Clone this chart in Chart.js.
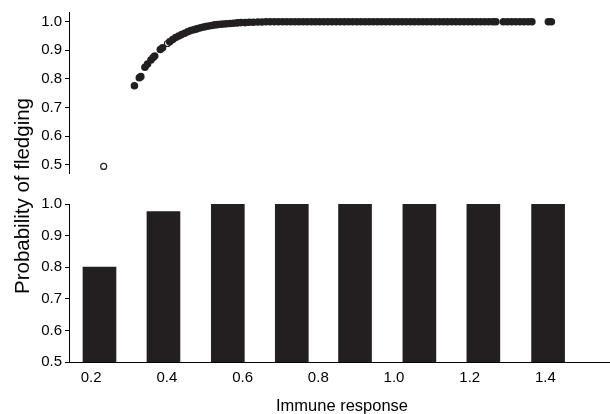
<!DOCTYPE html>
<html>
<head>
<meta charset="utf-8">
<script src="https://cdn.jsdelivr.net/npm/chart.js@4.4.1/dist/chart.umd.min.js"></script>
<style>
  html, body { margin: 0; padding: 0; background: #fff; }
  #wrap { position: relative; width: 610px; height: 414px; overflow: hidden; font-family: "Liberation Sans", Arial, sans-serif; }
  #top { position: absolute; left: 0; top: 0; width: 610px; height: 185px; }
  #bot { position: absolute; left: 0; top: 185px; width: 610px; height: 229px; }
  #ytitle { position: absolute; left: 22px; top: 196px; width: 300px; margin-left: -150px; margin-top: -12px; height: 24px; line-height: 24px;
            text-align: center; font-size: 20.5px; color: #000; transform: rotate(-90deg); white-space: nowrap; }
  #xtitle { position: absolute; left: 192px; top: 395px; width: 300px; height: 20px; line-height: 20px; text-align: center; font-size: 16.5px; color: #000; white-space: nowrap; }
</style>
</head>
<body>
<div id="wrap">
  <div id="top"><canvas id="c1"></canvas></div>
  <div id="bot"><canvas id="c2"></canvas></div>
  <div id="ytitle">Probability of fledging</div>
  <div id="xtitle">Immune response</div>
</div>
<script>
// ---- data ----
const xTickValues = [0.2, 0.4, 0.6, 0.8, 1.0, 1.2, 1.4];
const yTickValues = [0.5, 0.6, 0.7, 0.8, 0.9, 1.0];

// bottom panel: bars
const binCenters = [0.222, 0.391, 0.561, 0.730, 0.897, 1.067, 1.236, 1.407];
const barValues  = [0.80, 0.976, 1.0, 1.0, 1.0, 1.0, 1.0, 1.0];

// top panel: individual predicted probabilities (filled)
const scatterX = [0.316, 0.329, 0.333, 0.344, 0.351, 0.360, 0.366, 0.370, 0.385, 0.391,
  0.410, 0.418, 0.426, 0.434, 0.442, 0.450, 0.458, 0.466, 0.474, 0.482, 0.490, 0.498,
  0.506, 0.514, 0.522, 0.530, 0.538, 0.546, 0.554, 0.562, 0.571, 0.580, 0.590, 0.600,
  0.611, 0.622, 0.633, 0.645, 0.656,
  0.667, 0.678, 0.689, 0.700, 0.711, 0.722, 0.733, 0.744, 0.755, 0.766, 0.777, 0.788,
  0.799, 0.810, 0.821, 0.832, 0.843, 0.854, 0.865, 0.876, 0.887, 0.898, 0.909, 0.920,
  0.931, 0.942, 0.953, 0.964, 0.975, 0.986, 0.997, 1.008, 1.019, 1.030, 1.041, 1.052,
  1.063, 1.074, 1.085, 1.096, 1.107, 1.118, 1.129, 1.140, 1.151, 1.162, 1.173, 1.184,
  1.195, 1.206, 1.217, 1.228, 1.239, 1.250, 1.261, 1.272, 1.280,
  1.300, 1.311, 1.322, 1.333, 1.344, 1.355, 1.366, 1.376,
  1.420, 1.428];
const scatterY = [0.776, 0.804, 0.808, 0.841, 0.852, 0.866, 0.875, 0.880, 0.903, 0.909,
  0.930, 0.938, 0.945, 0.950, 0.955, 0.960, 0.965, 0.969, 0.972, 0.975, 0.978, 0.981,
  0.983, 0.985, 0.987, 0.989, 0.990, 0.991, 0.992, 0.993, 0.994, 0.995, 0.996, 0.997,
  0.997, 0.998, 0.998, 0.999, 0.999,
  1.0, 1.0, 1.0, 1.0, 1.0, 1.0, 1.0, 1.0, 1.0, 1.0, 1.0, 1.0,
  1.0, 1.0, 1.0, 1.0, 1.0, 1.0, 1.0, 1.0, 1.0, 1.0, 1.0, 1.0,
  1.0, 1.0, 1.0, 1.0, 1.0, 1.0, 1.0, 1.0, 1.0, 1.0, 1.0, 1.0,
  1.0, 1.0, 1.0, 1.0, 1.0, 1.0, 1.0, 1.0, 1.0, 1.0, 1.0, 1.0,
  1.0, 1.0, 1.0, 1.0, 1.0, 1.0, 1.0, 1.0, 1.0,
  1.0, 1.0, 1.0, 1.0, 1.0, 1.0, 1.0, 1.0,
  1.0, 1.0];

// top panel: open circles
const openX = [0.234, 0.404];
const openY = [0.494, 0.924];

// ---- shared settings ----
const X_MIN = 0.1415, X_MAX = 1.5705;
const INK = '#231f20';
const FONT = { family: '"Liberation Sans", Arial, sans-serif', size: 15 };

function fixedTicks(values) {
  return function (scale) { scale.ticks = values.map(v => ({ value: v })); };
}
function yAxis(min, max) {
  return {
    type: 'linear', min: min, max: max,
    afterBuildTicks: fixedTicks(yTickValues),
    afterFit: s => { s.width = 69; },
    border: { display: true, color: '#000', width: 1 },
    grid: { drawOnChartArea: false, drawTicks: true, tickLength: 4, color: '#000', lineWidth: 1 },
    ticks: { color: '#000', font: FONT, padding: 3, callback: v => v.toFixed(1) }
  };
}

const common = {
  responsive: true, maintainAspectRatio: false, animation: false,
  plugins: { legend: { display: false }, tooltip: { enabled: false } },
  events: []
};

// top chart
new Chart(document.getElementById('c1'), {
  type: 'scatter',
  data: {
    datasets: [
      { data: scatterX.map((x, i) => ({ x: x, y: scatterY[i] })),
        pointRadius: 3.8, pointBackgroundColor: INK, pointBorderColor: INK, pointBorderWidth: 0 },
      { data: openX.map((x, i) => ({ x: x, y: openY[i] })),
        pointRadius: 3, pointBackgroundColor: '#fff', pointBorderColor: INK, pointBorderWidth: 1.2 }
    ]
  },
  options: Object.assign({}, common, {
    layout: { padding: { top: 10, bottom: 10, left: 0, right: 0 } },
    scales: {
      x: { type: 'linear', min: X_MIN, max: X_MAX, display: false },
      y: yAxis(0.471, 1.0341)
    }
  })
});

// bottom chart
new Chart(document.getElementById('c2'), {
  type: 'bar',
  data: {
    datasets: [{
      data: binCenters.map((x, i) => ({ x: x, y: barValues[i] })),
      backgroundColor: INK, borderWidth: 0, barThickness: 33
    }]
  },
  options: Object.assign({}, common, {
    layout: { padding: { top: 19, bottom: 0, left: 0, right: 0 } },
    scales: {
      x: {
        type: 'linear', min: X_MIN, max: X_MAX, offset: false,
        afterBuildTicks: fixedTicks(xTickValues),
        afterFit: s => { s.height = 52; },
        border: { display: true, color: '#000', width: 1 },
        grid: { display: false, drawTicks: false },
        ticks: { color: '#000', font: FONT, padding: 7, maxRotation: 0, autoSkip: false, callback: v => v.toFixed(1) }
      },
      y: yAxis(0.5, 1.0)
    }
  })
});
</script>
</body>
</html>
